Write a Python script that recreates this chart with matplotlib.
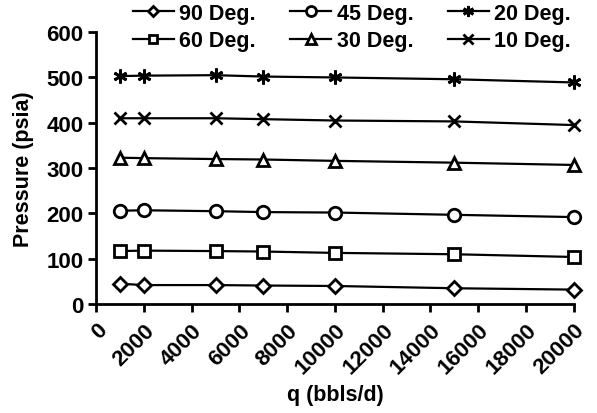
import numpy as np
import matplotlib
matplotlib.use('Agg')
import matplotlib.pyplot as plt

plt.rcParams['font.family'] = ['Liberation Sans', 'DejaVu Sans']
plt.rcParams['font.weight'] = 'bold'

q = [1000, 2000, 5000, 7000, 10000, 15000, 20000]
p_90 = [45, 42, 42, 41, 40, 35, 32]
p_60 = [117, 118, 117, 116, 113, 110, 104]
p_45 = [206, 207, 205, 203, 202, 197, 192]
p_30 = [323, 322, 320, 319, 316, 312, 307]
p_20 = [503, 504, 505, 502, 500, 496, 489]
p_10 = [410, 410, 410, 408, 405, 403, 395]

labels = ['90 Deg.', '60 Deg.', '45 Deg.', '30 Deg.', '20 Deg.', '10 Deg.']
markers = ['D', 's', 'o', '^', (6, 2, 0), 'x']
sizes = [7, 8, 9, 9, 10, 9]

fig = plt.figure(figsize=(5.97, 4.14), dpi=100)
ax = fig.add_axes([0.161, 0.263, 0.80, 0.657])

for vals, lab, m, s in zip([p_90, p_60, p_45, p_30, p_20, p_10], labels, markers, sizes):
    ax.plot(q, vals, color='black', lw=1.6, marker=m, markersize=s,
            markerfacecolor='white', markeredgecolor='black', markeredgewidth=2,
            label=lab, clip_on=False)

ax.set_xlim(0, 20000)
ax.set_ylim(0, 600)
ax.set_xticks(np.arange(0, 20001, 2000))
ax.set_yticks(np.arange(0, 601, 100))
ax.tick_params(axis='x', labelrotation=45, labelsize=16, width=2, length=6, pad=5)
ax.tick_params(axis='y', labelsize=16, width=2, length=6, pad=3)
for lbl in ax.get_xticklabels():
    lbl.set_ha('right')
    lbl.set_rotation_mode('anchor')
for side in ['top', 'right']:
    ax.spines[side].set_visible(False)
for side in ['left', 'bottom']:
    ax.spines[side].set_linewidth(2)

ax.set_xlabel('q (bbls/d)', fontsize=15.5, fontweight='bold', labelpad=4)
ax.set_ylabel('Pressure (psia)', fontsize=15.5, fontweight='bold', labelpad=9)

leg = fig.legend(loc='upper left', bbox_to_anchor=(133 / 597, 1 - 4 / 414), ncol=3,
                 frameon=False, fontsize=15.5, handlelength=1.9, columnspacing=1.6,
                 labelspacing=0.3, handletextpad=0.25, borderpad=0, borderaxespad=0,
                 markerscale=0.8)

fig.savefig('out.png', dpi=100)
